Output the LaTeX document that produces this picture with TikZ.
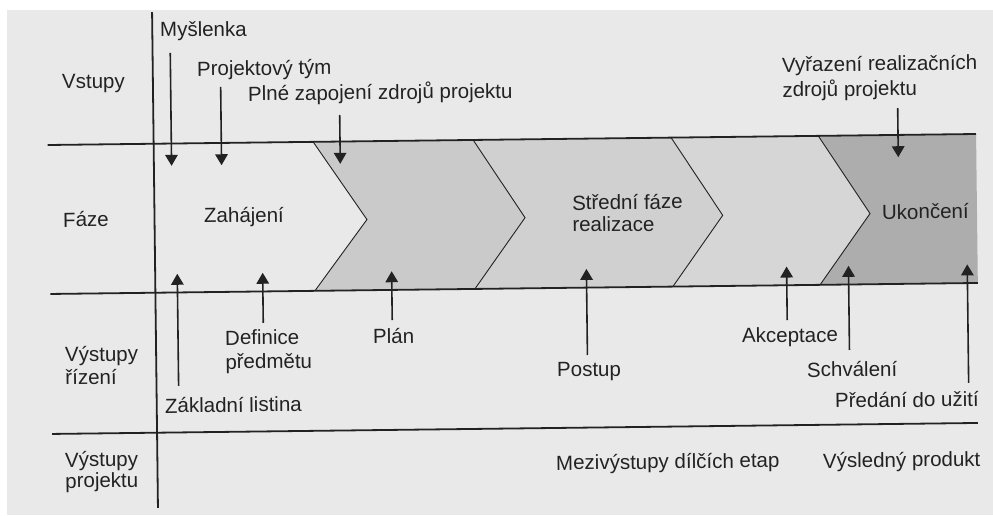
\documentclass[tikz,border=0pt]{standalone}
\usepackage{fontspec}
\setmainfont{Liberation Sans}
\usetikzlibrary{arrows.meta}
\definecolor{pagebg}{HTML}{E9E9E9}
\definecolor{chevA}{HTML}{CACACA}
\definecolor{chevB}{HTML}{D0D0D0}
\definecolor{chevC}{HTML}{D6D6D6}
\definecolor{chevD}{HTML}{ADADAD}
\definecolor{ink}{HTML}{222222}
\newcommand{\twolines}[3]{\vtop{\baselineskip=#1pt\hbox{#2}\hbox{#3}}}
\begin{document}
\begin{tikzpicture}[x=1pt,y=-1pt,
  lbl/.style={font=\fontsize{20.5}{24}\selectfont, text=ink, inner sep=0pt, anchor=base west},
  rulel/.style={draw=ink, line width=1.8pt},
  chevedge/.style={draw=ink, line width=0.9pt},
  arr/.style={draw=ink, line width=1.6pt, -{Triangle[length=11pt,width=12.5pt]}}]
\useasboundingbox (0,0) rectangle (993,515);
\fill[white] (0,0) rectangle (993,515);
\fill[pagebg] (7,10) rectangle (993,515);
\begin{scope}[rotate around={0.68:(496,257)}, transform shape]
 % phase fills
 \fill[chevA] (314.5,139.7) -- (474.5,139.7) -- (525.5,218) -- (474.5,288.7) -- (314.5,288.7) -- (367.4,218) -- cycle;
 \fill[chevB] (474.5,139.7) -- (672.5,139.7) -- (723.2,218) -- (672.5,288.7) -- (474.5,288.7) -- (525.5,218) -- cycle;
 \fill[chevC] (672.5,139.7) -- (819.7,139.7) -- (870.5,218) -- (819.7,288.7) -- (672.5,288.7) -- (723.2,218) -- cycle;
 \fill[chevD] (819.7,139.7) -- (977.5,139.7) -- (977.5,288.7) -- (819.7,288.7) -- (870.5,218) -- cycle;
 % chevron edges
 \draw[chevedge] (314.5,139.7) -- (367.4,218) -- (314.5,288.7);
 \draw[chevedge] (474.5,139.7) -- (525.5,218) -- (474.5,288.7);
 \draw[chevedge] (672.5,139.7) -- (723.2,218) -- (672.5,288.7);
 \draw[chevedge] (819.7,139.7) -- (870.5,218) -- (819.7,288.7);
 % grid lines
 \coordinate (t1) at (49,139.7);   \coordinate (t2) at (977.5,139.7);
 \coordinate (b1) at (50,288.7);   \coordinate (b2) at (977.5,288.7);
 \coordinate (c1) at (50,428.7);   \coordinate (c2) at (976,428.7);
 \coordinate (v1) at (155,8);      \coordinate (v2) at (155,504);
 \draw[rulel] (t1) -- (t2);
 \draw[rulel] (b1) -- (b2);
 \draw[rulel] (c1) -- (c2);
 \draw[rulel] (v1) -- (v2);
 % row labels
 \node[lbl] (vstupy) at (64,83.8) {Vstupy};
 \node[lbl] (faze) at (63.4,221.9) {Fáze};
 \node[lbl] (vrizeni) at (63.8,356.5) {\twolines{23}{Výstupy}{řízení}};
 \node[lbl] (vprojektu) at (62.5,462) {\twolines{21}{Výstupy}{projektu}};
 % inputs
 \node[lbl] (mys) at (162.6,33) {Myšlenka};
 \node[lbl] (tym) at (199.1,72.5) {Projektový tým};
 \node[lbl] (plne) at (249.9,98.1) {Plné zapojení zdrojů projektu};
 \node[lbl] (vyraz) at (784.2,75.4) {\twolines{25}{Vyřazení realizačních}{zdrojů projektu}};
 % phases
 \node[lbl] (zahaj) at (204.4,219.5) {Zahájení};
 \node[lbl] (stred) at (572.6,210.9) {\twolines{22}{Střední fáze}{realizace}};
 \node[lbl] (ukonc) at (882.4,224) {Ukončení};
 % management outputs
 \node[lbl] (defin) at (224,341.8) {\twolines{24}{Definice}{předmětu}};
 \node[lbl] (plan) at (372,342.5) {Plán};
 \node[lbl] (zakl) at (163.1,409.1) {Základní listina};
 \node[lbl] (postup) at (555.6,377.7) {Postup};
 \node[lbl] (akcep) at (741,345.9) {Akceptace};
 \node[lbl] (schval) at (805.6,380.7) {Schválení};
 \node[lbl] (predani) at (833.2,412) {Předání do užití};
 % project outputs
 \node[lbl] (mezi) at (553.5,470.7) {Mezivýstupy dílčích etap};
 \node[lbl] (vysl) at (820.5,471.9) {Výsledný produkt};
 % arrow end points
 \coordinate (mysA) at (172.7,49);    \coordinate (mysB) at (172.7,162);
 \coordinate (tymA) at (222.7,83.7);  \coordinate (tymB) at (222.7,162);
 \coordinate (plneA) at (341.4,113);  \coordinate (plneB) at (341.4,162);
 \coordinate (vyrA) at (899.5,112.8); \coordinate (vyrB) at (899.5,162);
 \coordinate (zakA) at (177.1,382.2); \coordinate (zakB) at (177.1,270);
 \coordinate (defA) at (262.5,320.2); \coordinate (defB) at (262.5,270);
 \coordinate (plaA) at (391.5,318.8); \coordinate (plaB) at (391.5,270);
 \coordinate (posA) at (586.3,356.1); \coordinate (posB) at (586.3,270);
 \coordinate (akcA) at (786.5,323.5); \coordinate (akcB) at (786.5,270);
 \coordinate (schA) at (848.4,354.2); \coordinate (schB) at (848.4,270);
 \coordinate (preA) at (967.2,388.6); \coordinate (preB) at (967.2,270);
 \draw[arr] (mysA) -- (mysB);
 \draw[arr] (tymA) -- (tymB);
 \draw[arr] (plneA) -- (plneB);
 \draw[arr] (vyrA) -- (vyrB);
 \draw[arr] (zakA) -- (zakB);
 \draw[arr] (defA) -- (defB);
 \draw[arr] (plaA) -- (plaB);
 \draw[arr] (posA) -- (posB);
 \draw[arr] (akcA) -- (akcB);
 \draw[arr] (schA) -- (schB);
 \draw[arr] (preA) -- (preB);
\end{scope}
\end{tikzpicture}
\end{document}
